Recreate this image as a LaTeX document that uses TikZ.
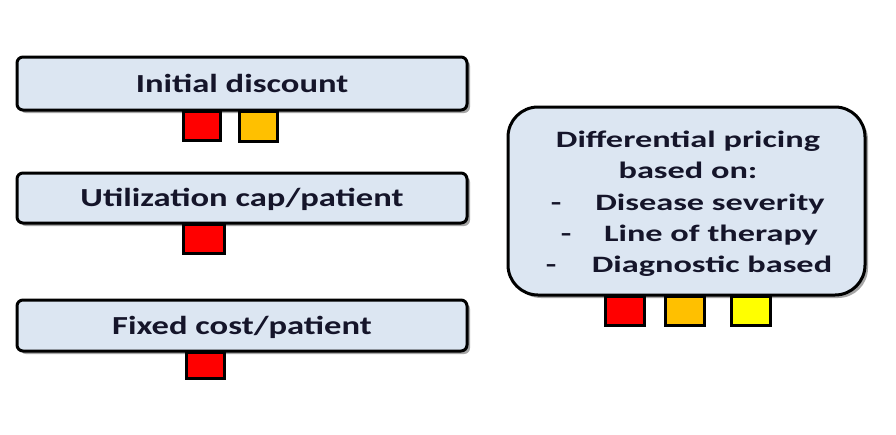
\documentclass[tikz,border=0pt]{standalone}
\usepackage{fontspec}
\usepackage{graphicx}
\setmainfont{Carlito}
\definecolor{boxfill}{HTML}{DCE6F2}
\definecolor{sqred}{HTML}{FF0000}
\definecolor{sqorange}{HTML}{FFC000}
\definecolor{sqyellow}{HTML}{FFFF00}
\definecolor{txtcol}{HTML}{15152A}
\newcommand{\wtxt}[2]{\scalebox{#1}[1]{#2}}
\begin{document}
\begin{tikzpicture}[x=1pt,y=-1pt,
  barbox/.style={draw=black, line width=3pt, fill=boxfill, rounded corners=6pt},
  bigbox/.style={draw=black, line width=3pt, fill=boxfill, rounded corners=30pt},
  shadowbox/.style={fill=gray!70, draw=none},
  sqbox/.style={draw=black, line width=2.5pt, minimum width=36pt, minimum height=26pt, inner sep=0pt, anchor=north west},
  lbl/.style={inner sep=0pt, anchor=base, text=txtcol, font=\fontsize{26}{30}\selectfont\bfseries},
  rlbl/.style={inner sep=0pt, anchor=base, text=txtcol, font=\fontsize{23.5}{28}\selectfont\bfseries}
]
\useasboundingbox (0,0) rectangle (896,434);
\fill[white] (0,0) rectangle (896,434);
% shadows
\fill[shadowbox, rounded corners=6pt] (20,60) rectangle (470,113);
\fill[shadowbox, rounded corners=6pt] (20,176) rectangle (470,226);
\fill[shadowbox, rounded corners=6pt] (20,303) rectangle (470,354);
\fill[shadowbox, rounded corners=30pt] (511,110) rectangle (868,298);
% boxes
\draw[barbox] (17,57) rectangle (467,110) node[pos=0.5, name=b1]{};
\draw[barbox] (17,173) rectangle (467,223) node[pos=0.5, name=b2]{};
\draw[barbox] (17,300) rectangle (467,351) node[pos=0.5, name=b3]{};
\draw[bigbox] (508,107) rectangle (865,295) node[pos=0.5, name=b4]{};
% left labels
\node[lbl] (t1) at (242,92) {\wtxt{1.33}{Initial discount}};
\node[lbl] (t2) at (242,206) {\wtxt{1.33}{Utilization cap/patient}};
\node[lbl] (t3) at (242,334) {\wtxt{1.33}{Fixed cost/patient}};
% right labels
\node[rlbl] (r1) at (688,147) {\wtxt{1.46}{Differential pricing}};
\node[rlbl] (r2) at (688,178) {\wtxt{1.46}{based on:}};
\node[rlbl] (r3) at (710,210) {\wtxt{1.46}{Disease severity}};
\node[rlbl] (r4) at (711,241) {\wtxt{1.46}{Line of therapy}};
\node[rlbl] (r5) at (712,272) {\wtxt{1.46}{Diagnostic based}};
\node[rlbl] (d1) at (556,210) {\wtxt{1.46}{-}};
\node[rlbl] (d2) at (566,241) {\wtxt{1.46}{-}};
\node[rlbl] (d3) at (551,272) {\wtxt{1.46}{-}};
% squares
\node[sqbox, fill=sqred, minimum width=37pt, minimum height=29pt] (s1) at (182,110) {};
\node[sqbox, fill=sqorange, minimum width=38pt, minimum height=30pt] (s2) at (238,110) {};
\node[sqbox, fill=sqred, minimum width=41pt, minimum height=29pt] (s3) at (182,223) {};
\node[sqbox, fill=sqred, minimum width=38pt, minimum height=26pt] (s4) at (185,351) {};
\node[sqbox, fill=sqred, minimum width=39pt, minimum height=29pt] (s5) at (604,295) {};
\node[sqbox, fill=sqorange, minimum width=39pt, minimum height=29pt] (s6) at (664,295) {};
\node[sqbox, fill=sqyellow, minimum width=39pt, minimum height=29pt] (s7) at (730,295) {};
\end{tikzpicture}
\end{document}
